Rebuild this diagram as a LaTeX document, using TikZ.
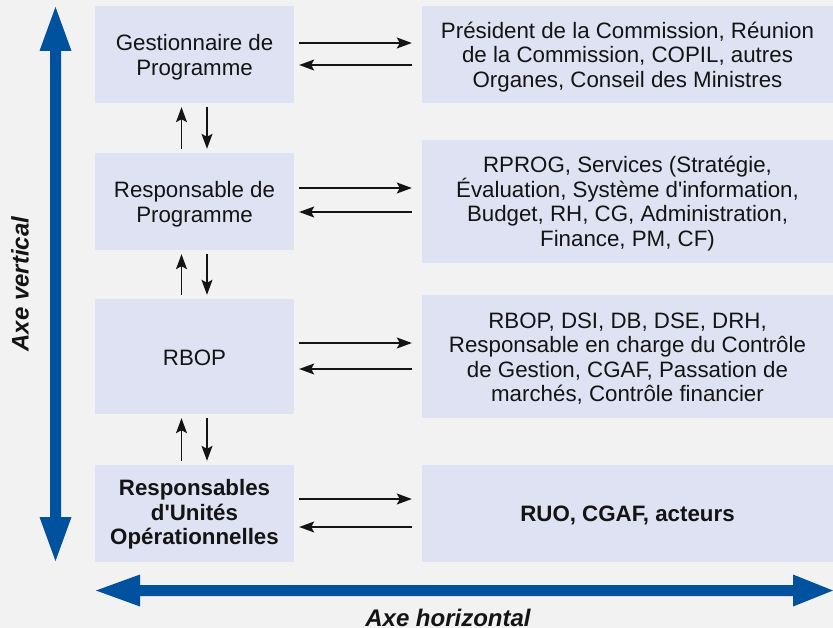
\documentclass[tikz,border=0pt]{standalone}
\usepackage{fontspec}
\setmainfont{Liberation Sans}
\usetikzlibrary{arrows.meta,calc}
\definecolor{pagebg}{HTML}{F2F2F2}
\definecolor{boxfill}{HTML}{DFE2F3}
\definecolor{axisblue}{HTML}{00519E}
\definecolor{ink}{HTML}{141414}
\newcommand{\apos}{\textquotesingle}
\begin{document}
\begin{tikzpicture}[x=1bp,y=-1bp,
  box/.style={fill=boxfill, draw=none, inner sep=0pt},
  leftbox/.style={box, minimum width=199bp},
  rightbox/.style={box, minimum width=411bp},
  boxtext/.style={inner sep=0pt, align=center, text=ink,
    font=\fontsize{22.3bp}{24.5bp}\selectfont},
  boldtext/.style={boxtext, font=\fontsize{22.3bp}{24.5bp}\selectfont\bfseries},
  link/.style={draw=ink, line width=1.3bp,
    -{Stealth[length=15bp,width=11bp,inset=3bp]}},
  axislabel/.style={text=ink, inner sep=0pt,
    font=\fontsize{24bp}{28bp}\selectfont\bfseries\itshape}]

% canvas
\fill[pagebg] (0,0) rectangle (833,628);
\useasboundingbox (0,0) rectangle (833,628);

% left column: roles
\node[leftbox, minimum height=97bp]  (L1) at (194.5,54.5)  {};
\node[leftbox, minimum height=97bp]  (L2) at (194.5,201.5) {};
\node[leftbox, minimum height=115bp] (L3) at (194.5,356.5) {};
\node[leftbox, minimum height=97bp]  (L4) at (194.5,513.5) {};
\node[boxtext]  (L1t) at ([yshift=-2.5bp]L1.center) {Gestionnaire de\\Programme};
\node[boxtext]  (L2t) at ([yshift=-2.5bp]L2.center) {Responsable de\\Programme};
\node[boxtext]  (L3t) at ([yshift=-1bp]L3.center)   {RBOP};
\node[boldtext] (L4t) at ([yshift=-1bp]L4.center)   {Responsables\\d\apos Unités\\Opérationnelles};

% right column: counterparts
\node[rightbox, minimum height=97bp]  (R1) at (627.5,54.5)  {};
\node[rightbox, minimum height=123bp] (R2) at (627.5,201.5) {};
\node[rightbox, minimum height=123bp] (R3) at (627.5,356.5) {};
\node[rightbox, minimum height=97bp]  (R4) at (627.5,513.5) {};
\node[boxtext]  (R1t) at ([yshift=-2.5bp]R1.center)
  {Président de la Commission, Réunion\\de la Commission, COPIL, autres\\Organes, Conseil des Ministres};
\node[boxtext]  (R2t) at ([yshift=-2bp]R2.center)
  {RPROG, Services (Stratégie,\\Évaluation, Système d\apos information,\\Budget, RH, CG, Administration,\\Finance, PM, CF)};
\node[boxtext]  (R3t) at ([yshift=-2bp]R3.center)
  {RBOP, DSI, DB, DSE, DRH,\\Responsable en charge du Contrôle\\de Gestion, CGAF, Passation de\\marchés, Contrôle financier};
\node[boldtext] (R4t) at ([yshift=-1.5bp]R4.center) {RUO, CGAF, acteurs};

% horizontal exchanges
\foreach \a/\b/\up/\dn in {L1/R1/11.5/-10.5, L2/R2/13.5/-10.5, L3/R3/13.5/-12.5, L4/R4/14.5/-13.5}{
  \draw[link, shorten <=5bp, shorten >=10bp] ([yshift=\up bp]\a.east) -- ([yshift=\up bp]\b.west);
  \draw[link, shorten <=10bp, shorten >=5bp] ([yshift=\dn bp]\b.west) -- ([yshift=\dn bp]\a.east);
}

% vertical exchanges
\foreach \lo/\hi in {L2/L1, L3/L2, L4/L3}{
  \draw[link, shorten <=4bp, shorten >=4bp] ([xshift=-13bp]\lo.north) -- ([xshift=-13bp]\hi.south);
  \draw[link, shorten <=4bp, shorten >=4bp] ([xshift=12.5bp]\hi.south) -- ([xshift=12.5bp]\lo.north);
}

% vertical axis
\fill[axisblue] (55.5,7) -- (71.5,51) -- (61,51) -- (61,517) -- (71.5,517) -- (55.5,561)
  -- (39.5,517) -- (50,517) -- (50,51) -- (39.5,51) -- cycle;
\node[axislabel, rotate=90] (vlabel) at (20,284) {Axe vertical};

% horizontal axis
\fill[axisblue] (96,590.5) -- (140,574.5) -- (140,585) -- (793,585) -- (793,574.5) -- (833,590.5)
  -- (793,606.5) -- (793,596) -- (140,596) -- (140,606.5) -- cycle;
\node[axislabel, anchor=base] (hlabel) at (448,626) {Axe horizontal};
\end{tikzpicture}
\end{document}
